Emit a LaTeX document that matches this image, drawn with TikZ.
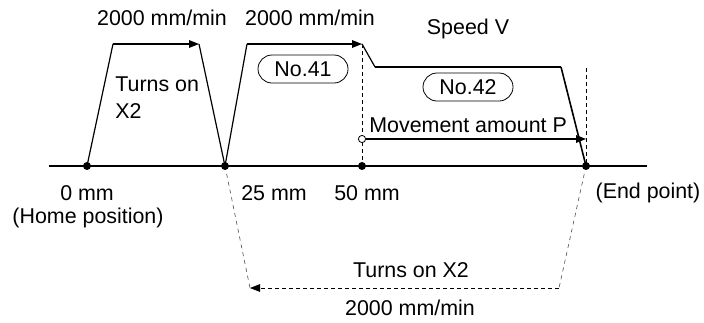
\documentclass[tikz,border=0pt]{standalone}
\usepackage{fontspec}
\setmainfont{Liberation Sans}
\usetikzlibrary{arrows.meta,calc}

\begin{document}
\begin{tikzpicture}[x=0.5pt,y=-0.5pt,font=\fontsize{10.7}{13.5}\selectfont,
  thinln/.style={line width=0.6pt,color=black},
  dashln/.style={line width=0.4pt,dash pattern=on 2pt off 1.5pt},
  fineln/.style={line width=0.3pt,color=black!70,dash pattern=on 2pt off 2pt},
  tip/.style={-{Triangle[length=5pt,width=3.8pt]}},
  dot/.style={circle,fill=black,inner sep=0pt,minimum size=4pt},
  odot/.style={circle,draw=black,fill=white,line width=0.4pt,inner sep=0pt,minimum size=3.6pt},
  pointbox/.style={draw,rounded corners=7pt,line width=0.4pt,minimum width=45pt,minimum height=14pt,inner sep=0pt}]
\useasboundingbox (0,0) rectangle (704,322);

\coordinate (p0) at (87,166);
\coordinate (p25) at (225,166);
\coordinate (p50) at (362,166);
\coordinate (pend) at (586,166);
\coordinate (t1a) at (113,44);
\coordinate (t1b) at (199,44);
\coordinate (t2a) at (247,44);
\coordinate (t2b) at (362,44);
\coordinate (t2c) at (375,67);
\coordinate (t2d) at (561,67);
\coordinate (mvs) at (362,139);
\coordinate (mve) at (586,139);
\coordinate (rb1) at (250,288);
\coordinate (rb2) at (559,288);

% axis
\draw[line width=1pt] (49,166) -- (647,166);

% speed patterns
\draw[thinln] (p0) -- (t1a);
\draw[thinln,tip] (t1a) -- (t1b);
\draw[thinln] (t1b) -- (p25);
\draw[thinln] (p25) -- (t2a);
\draw[thinln,tip] (t2a) -- (t2b);
\draw[thinln] (t2b) -- (t2c);
\draw[line width=1pt] (t2c) -- (t2d);
\draw[line width=0.8pt] (t2d) -- (pend);

\draw[dashln] (t2b) -- (p50);
\draw[dashln] (586,68) -- (pend);

% movement amount
\node[odot] (mv0) at (mvs) {};
\draw[thinln,tip] (mv0) -- (mve);
\node[anchor=south west,inner sep=0pt] (mvlbl) at (369,133) {Movement amount P};

% return to home
\draw[fineln] (p25) -- (rb1);
\draw[fineln] (pend) -- (rb2);
\draw[dashln,tip] (rb2) -- (rb1);

\foreach \p in {p0,p25,p50,pend}
  \node[dot] at (\p) {};

% labels
\node (spd1) at (162,18) {2000 mm/min};
\node (spd2) at (310,18) {2000 mm/min};
\node (spdv) at (468,29) {Speed V};
\node[anchor=west,align=left,inner sep=0pt] (x2a) at (115,98) {Turns on\\X2};
\node[pointbox] (no41) at (303,69) {No.41};
\node[pointbox] (no42) at (468,87) {No.42};
\node (l0) at (87,193) {0 mm};
\node (lhome) at (88,218) {(Home position)};
\node (l25) at (274,193) {25 mm};
\node (l50) at (367,193) {50 mm};
\node (lend) at (648,193) {(End point)};
\node (x2b) at (411,270) {Turns on X2};
\node (spd3) at (410,308) {2000 mm/min};

\end{tikzpicture}
\end{document}
